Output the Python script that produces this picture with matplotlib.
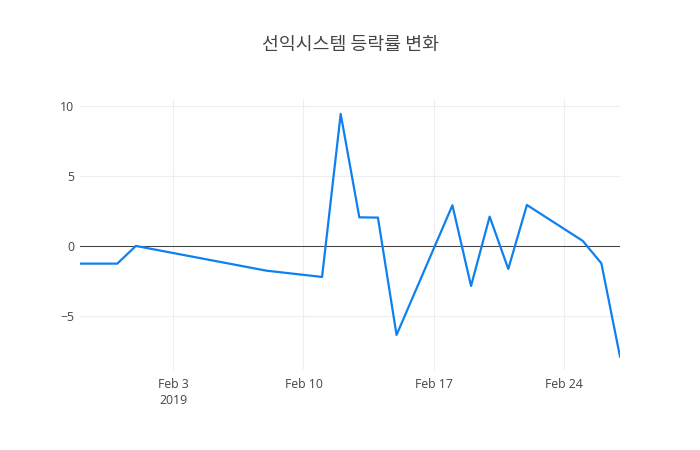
import numpy as np
import pandas as pd
import matplotlib
matplotlib.use("Agg")
import matplotlib.pyplot as plt
import matplotlib.dates as mdates

# Daily change rate (%)
dates = ["2019-01-29", "2019-01-31", "2019-02-01", "2019-02-08", "2019-02-11",
         "2019-02-12", "2019-02-13", "2019-02-14", "2019-02-15", "2019-02-18",
         "2019-02-19", "2019-02-20", "2019-02-21", "2019-02-22", "2019-02-25",
         "2019-02-26", "2019-02-27"]
rates = [-1.26, -1.26, 0.0, -1.76, -2.21,
         9.41, 2.04, 2.02, -6.34, 2.9,
         -2.85, 2.09, -1.64, 2.92, 0.36,
         -1.24, -7.89]

tick_dates = ["2019-02-03", "2019-02-10", "2019-02-17", "2019-02-24"]
tick_labels = ["Feb 3\n2019", "Feb 10", "Feb 17", "Feb 24"]
y_ticks = [-5, 0, 5, 10]

x = pd.to_datetime(dates)

plt.rcParams['font.family'] = ['Open Sans', 'Noto Sans CJK KR', 'DejaVu Sans']

fig = plt.figure(figsize=(7, 4.5), dpi=100)
ax = fig.add_axes([80 / 700, 80 / 450, 540 / 700, 270 / 450])

ax.plot(x, rates, color="#0f80ef", linewidth=1.6, zorder=3)
ax.axhline(0, color="#444444", linewidth=0.75, zorder=2)

ax.set_xlim(x[0], x[-1])
ax.set_ylim(-8.84, 10.4)

ax.set_xticks(pd.to_datetime(tick_dates))
ax.set_xticklabels(tick_labels, linespacing=1.3)
ax.set_yticks(y_ticks)

ax.grid(True, color="#eeeeee", linewidth=0.75)
ax.set_axisbelow(True)
for s in ax.spines.values():
    s.set_visible(False)
ax.tick_params(length=0, colors="#444444", labelsize=8.8)
ax.tick_params(axis="x", pad=6)
ax.tick_params(axis="y", pad=4)

fig.text(0.5, 1 - 45 / 450, "선익시스템 등락률 변화", ha="center", va="center",
         fontsize=13.2, color="#444444", weight="medium",
         family=['Noto Sans CJK KR', 'DejaVu Sans'])

fig.savefig("out.png", dpi=100)
